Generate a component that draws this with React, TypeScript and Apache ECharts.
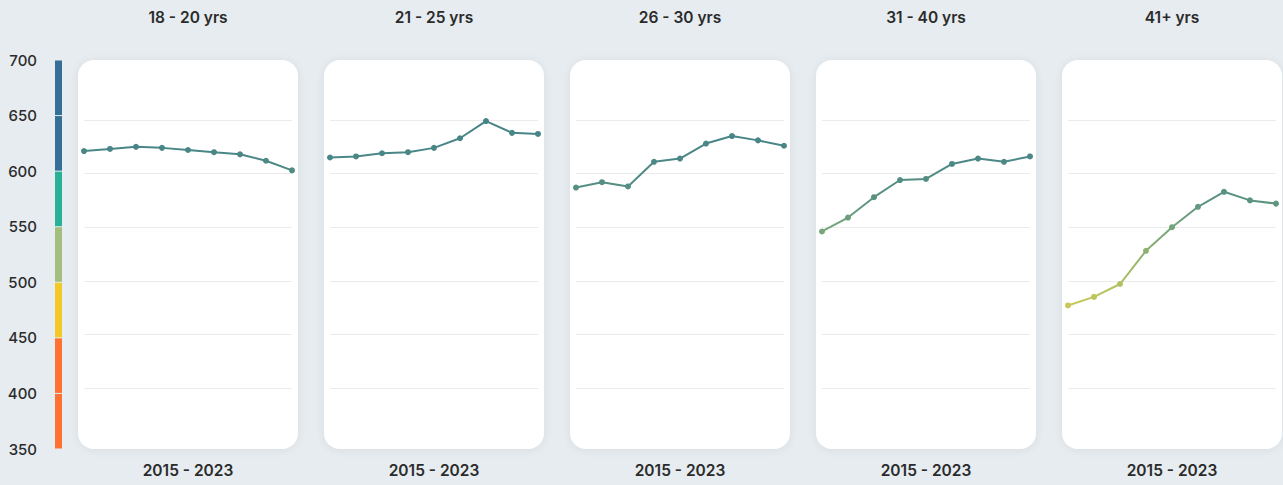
import React, { useEffect, useRef } from "react";
import * as echarts from "echarts";

const years = ["2015", "2016", "2017", "2018", "2019", "2020", "2021", "2022", "2023"];
const panelTitles = ["18 - 20 yrs", "21 - 25 yrs", "26 - 30 yrs", "31 - 40 yrs", "41+ yrs"];
const periodLabel = "2015 - 2023";

const age18to20 = [621, 623, 625, 624, 622, 620, 618, 612, 603];
const age21to25 = [615, 616, 619, 620, 624, 633, 649, 638, 637];
const age26to30 = [587, 592, 588, 611, 614, 628, 635, 631, 626];
const age31to40 = [546, 559, 578, 594, 595, 609, 614, 611, 616];
const age41plus = [477, 485, 497, 528, 550, 569, 583, 575, 572];
const panelSeries = [age18to20, age21to25, age26to30, age31to40, age41plus];

const bandLows = [350, 400, 450, 500, 550, 600, 650];
const bandColors = ["#ff7033", "#ff7033", "#f3c928", "#a3be7d", "#27b196", "#336f97", "#336f97"];

const FONT = "Inter, 'Noto Sans', sans-serif";

export default function App() {
  const ref = useRef<HTMLDivElement>(null);
  useEffect(() => {
    if (!ref.current) return;
    const chart = echarts.init(ref.current, null, { renderer: "svg" });

    const grids: any[] = [{ left: 55, top: 60, width: 7, height: 389 }];
    const xAxes: any[] = [{ gridIndex: 0, type: "value", min: 0, max: 1, show: false }];
    const yAxes: any[] = [
      {
        gridIndex: 0,
        type: "value",
        min: 350,
        max: 700,
        interval: 50,
        axisLine: { show: false },
        axisTick: { show: false },
        splitLine: { show: false },
        axisLabel: { color: "#2b2b2b", fontSize: 15, fontFamily: FONT, fontWeight: 500, margin: 18 },
      },
    ];
    const series: any[] = [
      {
        type: "custom",
        xAxisIndex: 0,
        yAxisIndex: 0,
        data: bandLows.map((low, i) => [low, low + 50, i]),
        renderItem: (params: any, api: any) => {
          const low = api.value(0);
          const high = api.value(1);
          const idx = api.value(2);
          const p1 = api.coord([0, high]);
          const p2 = api.coord([1, low]);
          return {
            type: "rect",
            shape: { x: p1[0], y: p1[1] + 0.5, width: p2[0] - p1[0], height: p2[1] - p1[1] - 1 },
            style: { fill: bandColors[idx] },
          };
        },
      },
    ];
    const graphics: any[] = [];

    panelSeries.forEach((vals, i) => {
      const px = 78 + 246 * i;
      graphics.push({
        type: "rect",
        z: -10,
        shape: { x: px, y: 60, width: 220, height: 389, r: 16 },
        style: { fill: "#ffffff", shadowBlur: 8, shadowColor: "rgba(0,0,0,0.07)", shadowOffsetY: 1 },
      });
      graphics.push({
        type: "text",
        x: px + 110,
        y: 17,
        style: { text: panelTitles[i], align: "center", verticalAlign: "middle", fill: "#2b2b2b", font: `600 15.5px ${FONT}` },
      });
      graphics.push({
        type: "text",
        x: px + 110,
        y: 470,
        style: { text: periodLabel, align: "center", verticalAlign: "middle", fill: "#2b2b2b", font: `600 15.5px ${FONT}` },
      });
      grids.push({ left: px + 6, top: 66.4, width: 208, height: 375.2 });
      xAxes.push({ gridIndex: i + 1, type: "category", data: years, boundaryGap: false, show: false });
      yAxes.push({
        gridIndex: i + 1,
        type: "value",
        min: 350,
        max: 700,
        interval: 50,
        axisLine: { show: false },
        axisTick: { show: false },
        axisLabel: { show: false },
        splitLine: { show: true, showMinLine: false, showMaxLine: false, lineStyle: { color: "#ebebeb", width: 1 } },
      });
      series.push({
        type: "line",
        xAxisIndex: i + 1,
        yAxisIndex: i + 1,
        data: vals,
        symbol: "circle",
        symbolSize: 6,
        lineStyle: { width: 2 },
        z: 5,
      });
    });

    chart.setOption({
      animation: false,
      backgroundColor: "#e6ecf0",
      grid: grids,
      xAxis: xAxes,
      yAxis: yAxes,
      visualMap: {
        show: false,
        type: "continuous",
        seriesIndex: [1, 2, 3, 4, 5],
        dimension: 1,
        min: 470,
        max: 650,
        inRange: { color: ["#d2c957", "#a6bd66", "#7ca978", "#5a9282", "#4a8786", "#468488"] },
      },
      graphic: graphics,
      series,
    });
    return () => chart.dispose();
  }, []);
  return <div ref={ref} style={{ position: "fixed", left: 0, top: 0, width: 1283, height: 485 }} />;
}
